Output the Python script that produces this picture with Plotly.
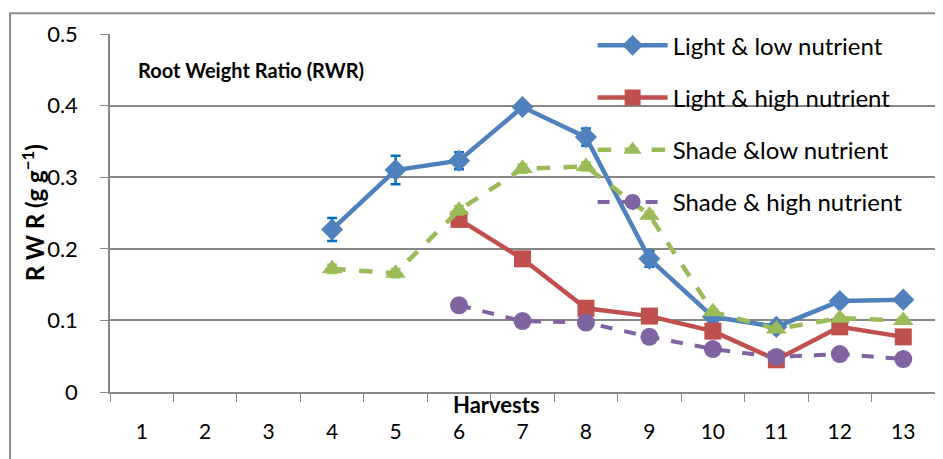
import plotly.graph_objects as go

# Harvest categories on the x axis
harvests = [str(i) for i in range(1, 14)]

# Root weight ratio per treatment (g g-1)
light_low_x = ["4", "5", "6", "7", "8", "9", "10", "11", "12", "13"]
light_low = [0.227, 0.310, 0.323, 0.398, 0.356, 0.186, 0.105, 0.091, 0.127, 0.129]
light_low_err = [0.016, 0.020, 0.012, 0.003, 0.012, 0.011, 0.003, 0.003, 0.003, 0.003]

light_high_x = ["6", "7", "8", "9", "10", "11", "12", "13"]
light_high = [0.241, 0.186, 0.117, 0.106, 0.085, 0.045, 0.091, 0.077]

shade_low_x = ["4", "5", "6", "7", "8", "9", "10", "11", "12", "13"]
shade_low = [0.172, 0.166, 0.254, 0.312, 0.315, 0.247, 0.112, 0.088, 0.103, 0.100]
shade_low_err = [0.006, 0.006, 0.006, 0.006, 0.006, 0.005, 0.004, 0.004, 0.004, 0.004]

shade_high_x = ["6", "7", "8", "9", "10", "11", "12", "13"]
shade_high = [0.121, 0.099, 0.097, 0.077, 0.060, 0.049, 0.053, 0.046]

y_ticks = [0, 0.1, 0.2, 0.3, 0.4, 0.5]
y_tick_text = ["0", "0.1", "0.2", "0.3", "0.4", "0.5"]

FONT = "Lato"
GRID = "#878787"

fig = go.Figure()

fig.add_trace(go.Scatter(
    x=light_low_x, y=light_low, name="Light & low nutrient",
    mode="lines+markers", legendgroup="a",
    line=dict(color="#4F81BD", width=4.5),
    marker=dict(symbol="diamond", size=17, color="#4F81BD"),
    error_y=dict(type="data", array=light_low_err, color="#0070C0",
                 thickness=2.5, width=5),
))
fig.add_trace(go.Scatter(
    x=light_high_x, y=light_high, name="Light & high nutrient",
    mode="lines+markers", legendgroup="b",
    line=dict(color="#C0504D", width=4.5),
    marker=dict(symbol="square", size=17, color="#C0504D"),
))
fig.add_trace(go.Scatter(
    x=shade_low_x, y=shade_low, name="Shade &low nutrient",
    mode="lines+markers", legendgroup="c",
    line=dict(color="#9BBB59", width=4.5, dash="dash"),
    marker=dict(symbol="triangle-up", size=18, color="#9BBB59"),
    error_y=dict(type="data", array=shade_low_err, color="#92D050",
                 thickness=2, width=5),
))
fig.add_trace(go.Scatter(
    x=shade_high_x, y=shade_high, name="Shade & high nutrient",
    mode="lines+markers", legendgroup="d",
    line=dict(color="#8064A2", width=4, dash="dash"),
    marker=dict(symbol="circle", size=18, color="#8064A2"),
))

# outer chart border (extends past the bottom/right of the picture)
fig.add_shape(type="rect", xref="paper", yref="paper",
              x0=-0.1212, x1=1.03, y0=-0.3, y1=1.058,
              line=dict(color="#8C8C8C", width=2), layer="above")

fig.add_annotation(text="<b>Root Weight Ratio (RWR)</b>", xref="paper", yref="paper",
                   x=0.032, y=0.9, xanchor="left", yanchor="middle",
                   showarrow=False, font=dict(family=FONT, size=20, color="black"))
fig.add_annotation(text="<b>Harvests</b>", xref="paper", yref="paper",
                   x=0.469, y=-0.034, xanchor="center", yanchor="middle",
                   showarrow=False, font=dict(family=FONT, size=22, color="black"))
fig.add_annotation(text="<b>R W R (g g<sup>−1</sup>)</b>", xref="paper", yref="paper",
                   x=-0.093, y=0.5, xanchor="center", yanchor="middle", textangle=-90,
                   showarrow=False, font=dict(family=FONT, size=24, color="black"))

fig.update_layout(
    width=943, height=459,
    margin=dict(l=102, r=16, t=26, b=75),
    paper_bgcolor="white", plot_bgcolor="white",
    font=dict(family=FONT, size=21, color="black"),
    showlegend=True,
    legend=dict(x=0.585, y=1.03, xanchor="left", yanchor="top",
                bgcolor="rgba(0,0,0,0)", font=dict(family=FONT, size=24),
                itemwidth=70, tracegroupgap=18, traceorder="grouped"),
    xaxis=dict(type="category", categoryorder="array", categoryarray=harvests,
               tickvals=harvests, range=[-0.5, 12.5], tickson="boundaries",
               ticks="outside", ticklen=8, tickcolor=GRID, showgrid=False,
               showline=True, linecolor=GRID, linewidth=1.5,
               ticklabelstandoff=20, tickfont=dict(size=21)),
    yaxis=dict(range=[0, 0.5], tickvals=y_ticks, ticktext=y_tick_text,
               ticks="outside", ticklen=8, tickcolor=GRID,
               showgrid=True, gridcolor=GRID, gridwidth=1.5,
               showline=True, linecolor=GRID, linewidth=1.5, zeroline=False,
               ticklabelstandoff=18, tickfont=dict(size=22)),
)

fig.write_html("out.html")
